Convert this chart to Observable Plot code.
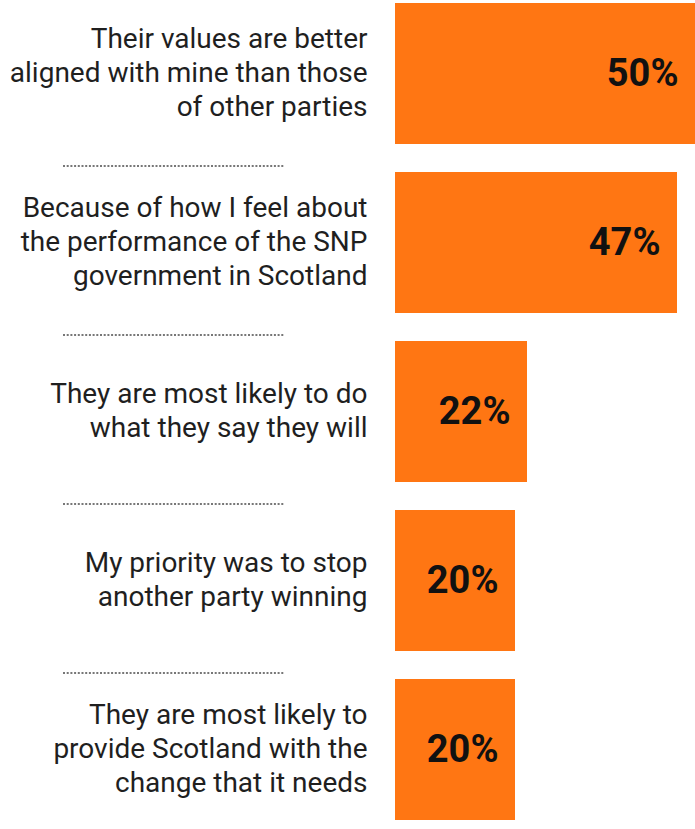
<!DOCTYPE html>
<html>
<head>
<meta charset="utf-8">
<script src="https://cdn.jsdelivr.net/npm/d3@7"></script>
<script src="https://cdn.jsdelivr.net/npm/@observablehq/plot@0.6"></script>
<style>
  html, body { margin: 0; padding: 0; background: #fff; }
  #chart svg { display: block; }
</style>
</head>
<body>
<div id="chart"></div>
<script>
const reasons = [
  "Their values are better\naligned with mine than those\nof other parties",
  "Because of how I feel about\nthe performance of the SNP\ngovernment in Scotland",
  "They are most likely to do\nwhat they say they will",
  "My priority was to stop\nanother party winning",
  "They are most likely to\nprovide Scotland with the\nchange that it needs"
];
const shares = [50, 47, 22, 20, 20];

const data = reasons.map((r, i) => ({reason: r, share: shares[i]}));
const separators = data.slice(0, data.length - 1);

const orange = "#ff7613";

const chart = Plot.plot({
  width: 695,
  height: 829,
  marginLeft: 395,
  marginRight: 0,
  marginTop: 1,
  marginBottom: 7,
  style: {fontFamily: "Roboto, sans-serif", background: "#fff"},
  x: {domain: [0, 50], axis: null},
  y: {domain: reasons, axis: null, paddingInner: 0.167, paddingOuter: 0},
  marks: [
    Plot.barX(data, {x: "share", y: "reason", fill: orange}),
    Plot.text(data, {
      x: "share", y: "reason", text: d => d.share + "%",
      textAnchor: "end", dx: -17, fontSize: 38, fontWeight: "bold", fill: "#111"
    }),
    Plot.text(data, {
      x: 0, y: "reason", text: "reason",
      textAnchor: "end", dx: -28, dy: -3, fontSize: 28, lineHeight: 1.22, fill: "#1f1f1f"
    }),
    Plot.ruleY(separators, {
      y: "reason", dy: 92, insetLeft: -332, insetRight: 410,
      stroke: "#777", strokeWidth: 2, strokeDasharray: "2,1.7"
    })
  ]
});
document.getElementById("chart").appendChild(chart);
</script>
</body>
</html>
